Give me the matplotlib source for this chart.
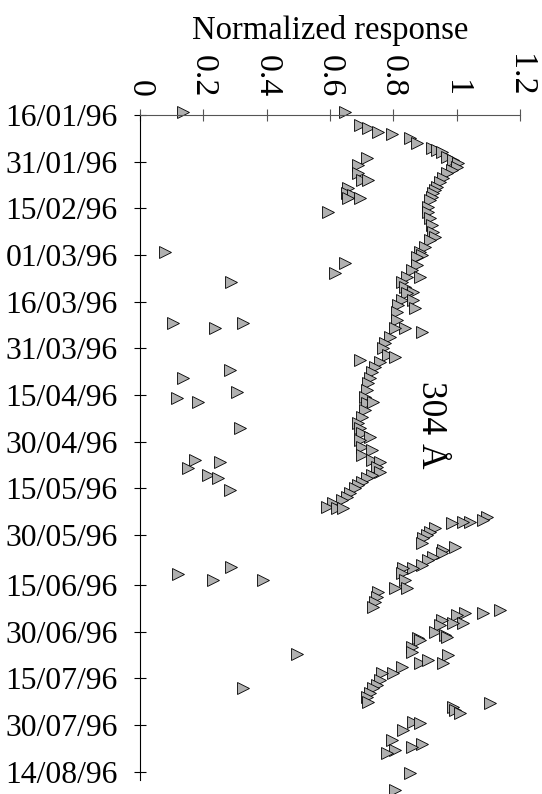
import numpy as np
import pandas as pd
import matplotlib
matplotlib.use('Agg')
import matplotlib.pyplot as plt

plt.rcParams['font.family'] = ['Liberation Serif', 'DejaVu Serif']

start = pd.Timestamp('1996-01-16')

# days after 16/01/96 and normalized response
main_days = [-1.0, 3.2, 4.2, 5.5, 6.1, 7.4, 9.0, 10.6, 11.3, 11.9, 13.5, 14.5, 15.4,
             16.7, 17.7, 18.6, 20.3, 21.5, 23.1, 24.1, 25.1, 26.4, 27.3, 29.6, 31.2,
             33.1, 35.4, 37.6, 39.2, 40.2, 42.4, 44.0, 45.0, 45.6, 48.2, 49.8, 52.1,
             52.1, 53.7, 55.3, 56.9, 57.2, 59.5, 59.5, 61.1, 62.0, 63.3, 65.9, 68.5,
             69.8, 68.5, 71.4, 73.3, 74.9, 77.1, 77.8, 79.4, 81.0, 82.6, 84.5, 86.1,
             88.4, 90.6, 92.6, 92.3, 94.8, 97.1, 99.0, 100.6, 102.2, 103.5, 104.5,
             106.7, 107.7, 109.3, 110.9, 111.5, 113.1, 114.8, 115.7, 116.7, 118.0,
             118.9, 119.9, 121.5, 122.8, 123.8, 124.7, 126.0, 126.3, 126.3]
main_resp = [0.647, 0.695, 0.720, 0.752, 0.796, 0.853, 0.875, 0.922, 0.938, 0.954,
             0.969, 0.988, 1.004, 1.001, 0.985, 0.969, 0.957, 0.947, 0.938, 0.931,
             0.925, 0.922, 0.916, 0.909, 0.909, 0.916, 0.922, 0.925, 0.931, 0.916,
             0.900, 0.884, 0.890, 0.875, 0.875, 0.859, 0.843, 0.884, 0.827, 0.837,
             0.862, 0.843, 0.827, 0.862, 0.815, 0.868, 0.811, 0.811, 0.837, 0.890,
             0.805, 0.789, 0.774, 0.767, 0.783, 0.805, 0.758, 0.742, 0.733, 0.726,
             0.720, 0.717, 0.710, 0.717, 0.736, 0.710, 0.701, 0.688, 0.695, 0.701,
             0.726, 0.695, 0.701, 0.733, 0.701, 0.733, 0.758, 0.748, 0.758, 0.733,
             0.717, 0.701, 0.688, 0.679, 0.663, 0.654, 0.638, 0.609, 0.590, 0.622,
             0.641]

feb_days = [13.8, 16.1, 18.6, 20.9, 20.9, 23.5, 25.1, 25.7, 26.7, 26.7, 31.2]
feb_resp = [0.717, 0.688, 0.688, 0.701, 0.720, 0.657, 0.654, 0.673, 0.695, 0.657, 0.594]

low_days = [-1.0, 44.0, 47.6, 50.8, 53.7, 66.9, 68.5, 66.9, 78.8, 82.0, 84.5, 89.0,
            91.0, 92.3, 100.6, 110.9, 113.5, 111.5, 115.7, 116.7, 120.5, 147.5,
            149.5, 145.3, 149.5, 173.3, 184.2]
low_resp = [0.136, 0.079, 0.647, 0.616, 0.287, 0.104, 0.237, 0.325, 0.695, 0.284,
            0.136, 0.306, 0.117, 0.183, 0.316, 0.174, 0.152, 0.253, 0.215, 0.246,
            0.284, 0.120, 0.231, 0.287, 0.388, 0.496, 0.325]

may_days = [129.2, 130.2, 130.8, 130.8, 131.1, 132.8, 134.0, 135.0, 136.0, 137.6,
            138.9, 139.8, 140.8, 142.1, 143.0, 144.6, 145.6, 145.6, 147.2, 149.5,
            152.1, 152.1, 153.3, 154.9, 156.5, 158.1]
may_resp = [1.096, 1.083, 1.042, 1.020, 0.985, 0.931, 0.916, 0.906, 0.894, 0.890,
            0.995, 0.957, 0.954, 0.925, 0.909, 0.890, 0.862, 0.830, 0.827, 0.837,
            0.843, 0.805, 0.751, 0.748, 0.742, 0.736]

jun_days = [159.1, 160.1, 160.1, 160.7, 163.3, 163.3, 162.3, 163.9, 166.2, 167.1,
            168.1, 167.8, 168.8, 171.0, 172.6, 173.6, 176.1, 175.2, 176.1, 177.4,
            179.4, 179.4, 181.6, 183.2, 184.2, 185.8, 187.1, 188.7]
jun_resp = [1.137, 1.083, 1.026, 1.001, 1.020, 0.988, 0.954, 0.947, 0.931, 0.963,
            0.878, 0.969, 0.884, 0.859, 0.859, 0.973, 0.884, 0.909, 0.957, 0.827,
            0.799, 0.764, 0.758, 0.748, 0.736, 0.726, 0.717, 0.720]

jul_days = [189.0, 190.3, 191.3, 192.2, 195.1, 195.4, 197.7, 200.9, 202.2, 203.1,
            204.1, 205.1, 211.5, 217.0]
jul_resp = [1.105, 0.988, 0.995, 1.010, 0.862, 0.884, 0.830, 0.796, 0.890, 0.859,
            0.805, 0.780, 0.853, 0.805]

tick_dates = ['16/01/96', '31/01/96', '15/02/96', '01/03/96', '16/03/96', '31/03/96',
              '15/04/96', '30/04/96', '15/05/96', '30/05/96', '15/06/96', '30/06/96',
              '15/07/96', '30/07/96', '14/08/96']
resp_ticks = [0, 0.2, 0.4, 0.6, 0.8, 1.0, 1.2]
resp_labels = ['0', '0.2', '0.4', '0.6', '0.8', '1', '1.2']


def to_dates(days):
    return start + pd.to_timedelta(np.asarray(days), unit='D')


fig = plt.figure(figsize=(5.42, 7.94), dpi=100)
ax = fig.add_axes([140/542, 1-780/794, 380/542, (780-115)/794])

# response on x, date running down the y axis
for d, r in [(main_days, main_resp), (feb_days, feb_resp), (low_days, low_resp),
             (may_days, may_resp), (jun_days, jun_resp), (jul_days, jul_resp)]:
    ax.plot(r, to_dates(d), linestyle='none', marker='>', ms=8,
            mfc='#b0b0b0', mec='black', mew=0.6, clip_on=False)

ax.set_xlim(0, 1.2)
ax.set_ylim(start + pd.Timedelta(days=213.7), start)

yt = pd.to_datetime(tick_dates, format='%d/%m/%y')
ax.set_yticks(yt)
ax.set_yticklabels(tick_dates)
ax.set_xticks(resp_ticks)
ax.set_xticklabels(resp_labels)

ax.xaxis.tick_top()
ax.spines['right'].set_visible(False)
ax.spines['bottom'].set_visible(False)
ax.spines['top'].set_color('#555555')
ax.spines['left'].set_color('black')
ax.tick_params(axis='x', direction='inout', length=8, width=0.8, colors='#555555',
               labelcolor='black', labelsize=24.5, pad=9, labelrotation=270)
ax.tick_params(axis='y', direction='inout', length=8, width=0.8, color='black',
               labelsize=22.8, pad=12)

ax.text(0.916, start + pd.Timedelta(days=99.6), '304 Å', rotation=270,
        ha='center', va='center', fontsize=25.5)

fig.text(330/542, 1-30/794, 'Normalized response', ha='center', va='center',
         fontsize=23.5)

fig.savefig('out.png', dpi=100)
